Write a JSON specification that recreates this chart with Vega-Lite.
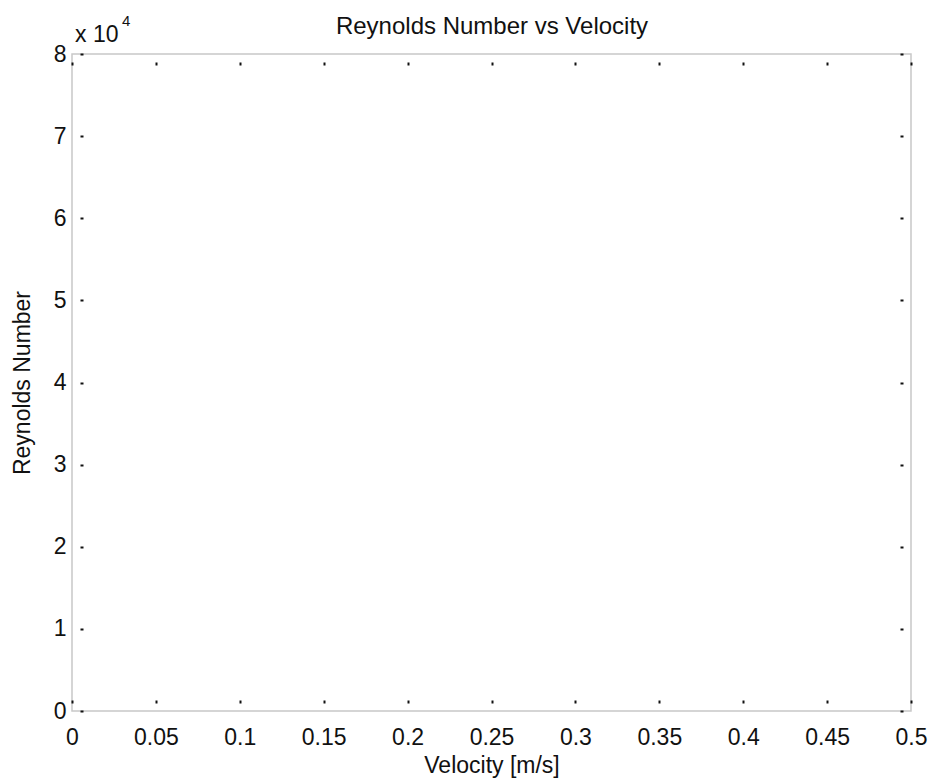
{
  "$schema": "https://vega.github.io/schema/vega-lite/v6.json",
  "width": 839,
  "height": 657,
  "autosize": {"type": "none"},
  "padding": {"left": 72, "top": 54, "right": 19, "bottom": 70},
  "background": "white",
  "config": {
    "view": {"stroke": "#c8c8c8", "strokeWidth": 1.5},
    "axis": {
      "domain": false, "grid": false, "ticks": true, "labelFlush": false, "labelOverlap": false,
      "tickColor": "#111111", "tickWidth": 2, "tickSize": -11, "tickDash": [0, 8, 3, 20],
      "labelFont": "Liberation Sans", "labelFontSize": 23, "labelColor": "#111111",
      "titleFont": "Liberation Sans", "titleFontSize": 23, "titleFontWeight": "normal", "titleColor": "#111111"
    }
  },
  "data": {"values": [{"base": "x 10", "exponent": "4"}]},
  "resolve": {"axis": {"x": "independent", "y": "independent"}},
  "layer": [
    {
      "mark": {"type": "text", "align": "left", "baseline": "alphabetic", "dx": 3, "dy": -12, "fontSize": 23, "font": "Liberation Sans", "color": "#111111"},
      "encoding": {
        "x": {"datum": 0, "type": "quantitative", "scale": {"domain": [0, 0.5], "nice": false, "zero": false},
              "axis": {"orient": "bottom", "title": "Velocity [m/s]", "values": [0, 0.05, 0.1, 0.15, 0.2, 0.25, 0.3, 0.35, 0.4, 0.45, 0.5], "format": "~g", "labelPadding": 26, "titleY": 61, "titleBaseline": "alphabetic"}},
        "y": {"datum": 80000, "type": "quantitative", "scale": {"domain": [0, 80000], "nice": false, "zero": false},
              "axis": {"orient": "left", "title": "Reynolds Number", "values": [0, 10000, 20000, 30000, 40000, 50000, 60000, 70000, 80000], "labelExpr": "datum.value / 10000", "labelPadding": 17, "titleX": -43, "titleY": 328.5, "titleAngle": -90, "titleBaseline": "alphabetic"}},
        "text": {"field": "base"}
      }
    },
    {
      "mark": {"type": "text", "align": "left", "baseline": "alphabetic", "dx": 50, "dy": -28, "fontSize": 15, "font": "Liberation Sans", "color": "#111111"},
      "encoding": {
        "x": {"datum": 0, "type": "quantitative", "axis": null},
        "y": {"datum": 80000, "type": "quantitative", "axis": null},
        "text": {"field": "exponent"}
      }
    },
    {
      "mark": {"type": "point", "opacity": 0},
      "encoding": {
        "x": {"datum": 0, "type": "quantitative", "axis": {"orient": "top", "title": "Reynolds Number vs Velocity", "titleFontSize": 24, "titleY": -21, "titleBaseline": "alphabetic", "labels": false, "values": [0, 0.05, 0.1, 0.15, 0.2, 0.25, 0.3, 0.35, 0.4, 0.45, 0.5]}},
        "y": {"datum": 0, "type": "quantitative", "axis": {"orient": "right", "title": null, "labels": false, "values": [0, 10000, 20000, 30000, 40000, 50000, 60000, 70000, 80000]}}
      }
    }
  ]
}
